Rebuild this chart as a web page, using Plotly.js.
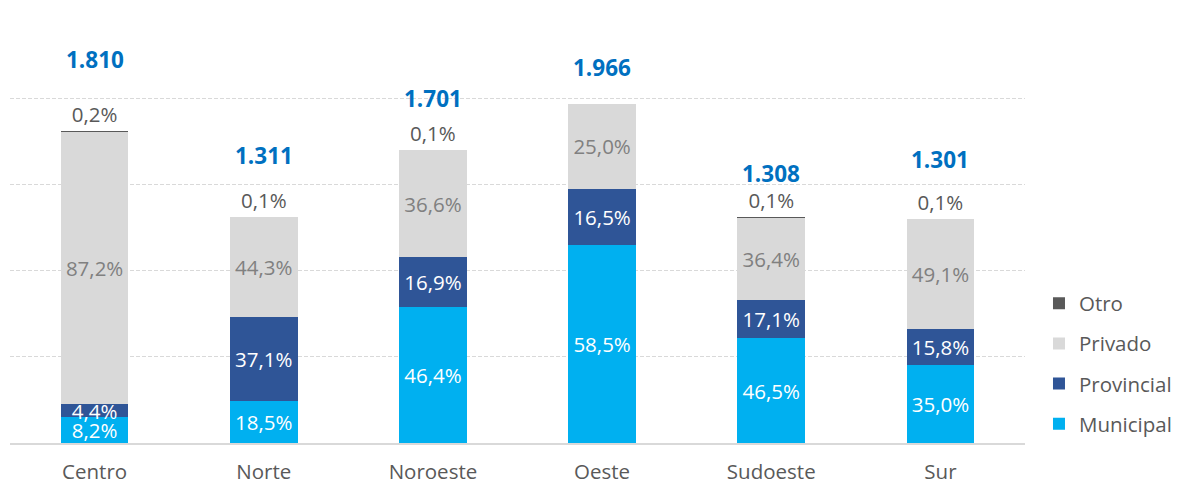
<!DOCTYPE html>
<html>
<head>
<meta charset="utf-8">
<script src="https://cdn.plot.ly/plotly-3.0.1.min.js"></script>
<style>html,body{margin:0;padding:0;background:#fff;}#chart{width:1180px;height:487px;}</style>
</head>
<body>
<div id="chart"></div>
<script>
// Data
var categories = ['Centro', 'Norte', 'Noroeste', 'Oeste', 'Sudoeste', 'Sur'];
var totals = [1810, 1311, 1701, 1966, 1308, 1301];
var municipalPct = [8.2, 18.5, 46.4, 58.5, 46.5, 35.0];
var provincialPct = [4.4, 37.1, 16.9, 16.5, 17.1, 15.8];
var privadoPct = [87.2, 44.3, 36.6, 25.0, 36.4, 49.1];
var otroPct = [0.2, 0.1, 0.1, 0, 0.1, 0.1];

// Layout-only: vertical pixel offset of each total label above its bar
var totalLabelShift = [71, 61, 51, 37, 44, 59];

function pctText(p) { return p.toFixed(1).replace('.', ',') + '%'; }
function thousands(n) { return String(n).replace(/\B(?=(\d{3})+(?!\d))/g, '.'); }
function absVals(pcts) { return pcts.map(function (p, i) { return totals[i] * p / 100; }); }

var FONT = '"Open Sans", "Noto Sans", sans-serif';
var FS = 20.5;

function series(name, pcts, color, textColor, pos, rank) {
  return {
    type: 'bar', name: name, x: categories, y: absVals(pcts),
    marker: { color: color, line: { width: 0 } },
    text: pcts.map(function (p) { return p > 0 ? pctText(p) : ''; }),
    textposition: pos, insidetextanchor: 'middle', textangle: 0,
    textfont: { family: FONT, size: FS, color: textColor },
    outsidetextfont: { family: FONT, size: FS, color: textColor },
    insidetextfont: { family: FONT, size: FS, color: textColor },
    cliponaxis: false, hoverinfo: 'skip', legendgroup: name, legendrank: rank
  };
}

var traces = [
  series('Municipal', municipalPct, '#00B0F0', '#FFFFFF', 'inside', 4),
  series('Provincial', provincialPct, '#2F5597', '#FFFFFF', 'inside', 3),
  series('Privado', privadoPct, '#D9D9D9', '#808080', 'inside', 2),
  series('Otro', otroPct, '#595959', '#595959', 'outside', 1)
];

var annotations = categories.map(function (c, i) {
  return {
    x: c, y: totals[i], xref: 'x', yref: 'y', yanchor: 'middle', yshift: totalLabelShift[i],
    text: '<b>' + thousands(totals[i]) + '</b>', showarrow: false,
    font: { family: FONT, size: 22.5, color: '#0070C0' }
  };
});

var layout = {
  width: 1180, height: 487,
  margin: { l: 10, r: 155, t: 12, b: 44, autoexpand: false },
  paper_bgcolor: '#FFFFFF', plot_bgcolor: '#FFFFFF',
  barmode: 'stack', bargap: 0.6,
  font: { family: FONT, size: FS, color: '#595959' },
  uniformtext: { mode: 'show', minsize: FS },
  showlegend: true,
  legend: {
    xref: 'container', yref: 'container',
    x: 0.8805, xanchor: 'left', y: 0.2526, yanchor: 'middle',
    traceorder: 'grouped', tracegroupgap: 10.5,
    font: { family: FONT, size: FS, color: '#595959' },
    bgcolor: 'rgba(0,0,0,0)'
  },
  xaxis: {
    type: 'category', showgrid: false, zeroline: false,
    showline: true, linecolor: '#D9D9D9', linewidth: 1.5,
    ticks: '', tickfont: { family: FONT, size: FS, color: '#595959' },
    ticklabelstandoff: 10, fixedrange: true
  },
  yaxis: {
    range: [0, 2500], dtick: 500, showgrid: true, gridcolor: '#D9D9D9',
    griddash: '4px,2px', gridwidth: 1, zeroline: false, showticklabels: false,
    ticks: '', fixedrange: true
  },
  annotations: annotations
};

Plotly.newPlot('chart', traces, layout, { displayModeBar: false, staticPlot: true });
</script>
</body>
</html>
